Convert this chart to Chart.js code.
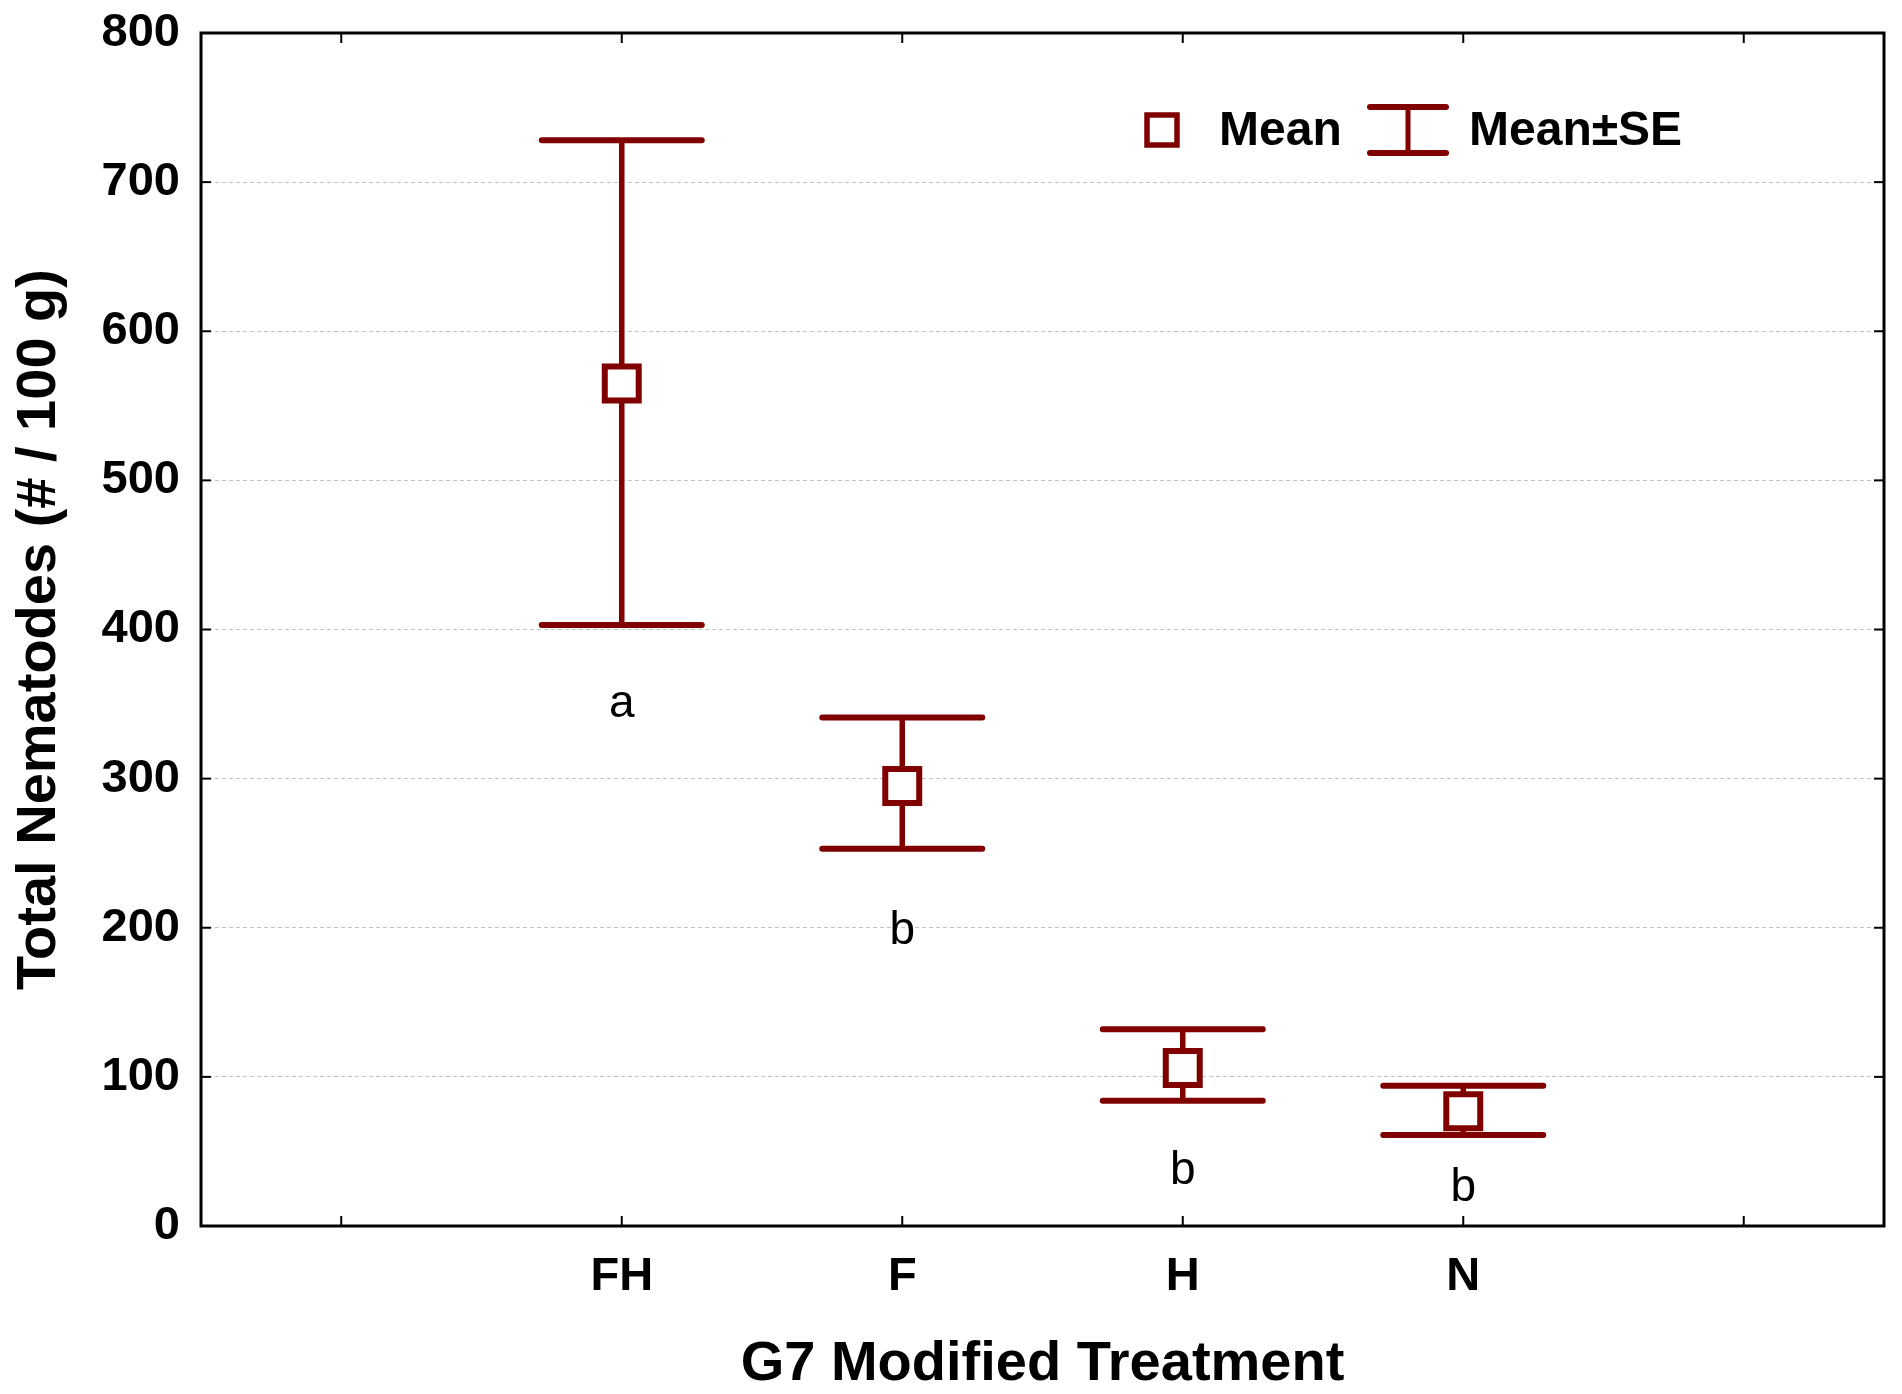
<!DOCTYPE html>
<html><head><meta charset="utf-8">
<script src="https://cdn.jsdelivr.net/npm/chart.js@4.4.0/dist/chart.umd.min.js"></script>
<style>html,body{margin:0;padding:0;background:#fff;overflow:hidden;} canvas{display:block;}</style>
</head><body>
<canvas id="c" width="1902" height="1394" style="width:1902px;height:1394px"></canvas>
<script>
// ---- data ----
const categories = ['FH', 'F', 'H', 'N'];
const means = [565, 295, 106, 77];
const upperSE = [728, 341, 132, 94];
const lowerSE = [403, 253, 84, 61];
const groupLetters = ['a', 'b', 'b', 'b'];
const letterBaseline = [341, 189, 28, 17];
const yTickValues = [0, 100, 200, 300, 400, 500, 600, 700, 800];
const xTickSlots = [0, 1, 2, 3, 4, 5];

const MARK = '#800000';
const FONT = "'Liberation Sans', Arial, sans-serif";

function zeroPad(s) { s.paddingTop = 0; s.paddingBottom = 0; s.paddingLeft = 0; s.paddingRight = 0; }

const errorBarPlugin = {
  id: 'errorBars',
  beforeDatasetsDraw(chart) {
    const {ctx, scales: {x, y}} = chart;
    ctx.save();
    ctx.strokeStyle = MARK;
    categories.forEach((c, i) => {
      const px = x.getPixelForValue(i + 1);
      const yU = y.getPixelForValue(upperSE[i]);
      const yL = y.getPixelForValue(lowerSE[i]);
      ctx.lineCap = 'butt';
      ctx.lineWidth = 5.5;
      ctx.beginPath(); ctx.moveTo(px, yU); ctx.lineTo(px, yL); ctx.stroke();
      ctx.lineCap = 'round';
      ctx.lineWidth = 6;
      [yU, yL].forEach(yy => {
        ctx.beginPath(); ctx.moveTo(px - 80, yy); ctx.lineTo(px + 80, yy); ctx.stroke();
      });
    });
    ctx.restore();
  },
  afterDatasetsDraw(chart) {
    const {ctx, scales: {x, y}} = chart;
    ctx.save();
    ctx.fillStyle = '#000';
    ctx.font = "46px " + FONT;
    ctx.textAlign = 'center';
    ctx.textBaseline = 'alphabetic';
    groupLetters.forEach((t, i) => {
      ctx.fillText(t, x.getPixelForValue(i + 1), y.getPixelForValue(letterBaseline[i]));
    });
    ctx.restore();
  }
};

const framePlugin = {
  id: 'frame',
  afterDraw(chart) {
    const {ctx, chartArea: a, scales: {x, y}} = chart;
    ctx.save();
    ctx.strokeStyle = '#000';
    ctx.lineWidth = 2;
    const tl = 10;
    // inward ticks
    x.ticks.forEach(t => {
      const px = x.getPixelForValue(t.value);
      ctx.beginPath(); ctx.moveTo(px, a.bottom); ctx.lineTo(px, a.bottom - tl); ctx.stroke();
      ctx.beginPath(); ctx.moveTo(px, a.top); ctx.lineTo(px, a.top + tl); ctx.stroke();
    });
    y.ticks.forEach(t => {
      if (t.value === 0 || t.value === 800) return;
      const py = y.getPixelForValue(t.value);
      ctx.beginPath(); ctx.moveTo(a.left, py); ctx.lineTo(a.left + tl, py); ctx.stroke();
      ctx.beginPath(); ctx.moveTo(a.right, py); ctx.lineTo(a.right - tl, py); ctx.stroke();
    });
    ctx.lineWidth = 3;
    ctx.strokeRect(a.left, a.top, a.right - a.left, a.bottom - a.top);

    // legend (fixed offsets from the plot's top-left corner)
    const lx = a.left, ly = a.top;
    const cy = ly + 97;
    ctx.fillStyle = '#fff';
    ctx.strokeStyle = MARK;
    ctx.lineWidth = 5.5;
    ctx.fillRect(lx + 946, cy - 15, 30, 30);
    ctx.strokeRect(lx + 946, cy - 15, 30, 30);
    ctx.fillStyle = '#000';
    ctx.font = "bold 48px " + FONT;
    ctx.textAlign = 'left';
    ctx.textBaseline = 'middle';
    ctx.fillText('Mean', lx + 1018, cy + 2);
    const ex = lx + 1207;
    ctx.lineWidth = 5;
    ctx.lineCap = 'butt';
    ctx.beginPath(); ctx.moveTo(ex, cy - 23); ctx.lineTo(ex, cy + 23); ctx.stroke();
    ctx.lineWidth = 6; ctx.lineCap = 'round';
    [cy - 23, cy + 23].forEach(yy => {
      ctx.beginPath(); ctx.moveTo(ex - 38, yy); ctx.lineTo(ex + 38, yy); ctx.stroke();
    });
    ctx.fillText('Mean\u00B1SE', lx + 1268, cy + 2);
    ctx.restore();
  }
};

new Chart(document.getElementById('c'), {
  type: 'scatter',
  data: {
    datasets: [{
      label: 'Mean',
      data: means.map((m, i) => ({x: i + 1, y: m})),
      pointStyle: 'rect',
      pointRadius: 24,
      pointHoverRadius: 24,
      pointBackgroundColor: '#fff',
      pointBorderColor: MARK,
      pointBorderWidth: 6,
      pointHoverBorderWidth: 6
    }]
  },
  options: {
    responsive: false,
    animation: false,
    events: [],
    devicePixelRatio: 1,
    layout: {autoPadding: false, padding: {left: 0, right: 18, top: 33, bottom: 0}},
    plugins: {legend: {display: false}, tooltip: {enabled: false}},
    scales: {
      x: {
        type: 'linear', min: -0.5, max: 5.5,
        afterBuildTicks(s) { s.ticks = xTickSlots.map(v => ({value: v})); },
        afterFit(s) { s.height = 168; zeroPad(s); },
        grid: {display: false, drawTicks: false},
        border: {display: false},
        ticks: {
          padding: 23,
          autoSkip: false, maxRotation: 0,
          color: '#000',
          font: {family: FONT, size: 47, weight: 'bold'},
          callback: (v) => categories[v - 1] || ''
        },
        title: {
          display: true, text: 'G7 Modified Treatment', color: '#000',
          font: {family: FONT, size: 56, weight: 'bold', lineHeight: 1.0},
          padding: {top: 0, bottom: 1}
        }
      },
      y: {
        type: 'linear', min: 0, max: 800,
        afterBuildTicks(s) { s.ticks = yTickValues.map(v => ({value: v})); },
        afterFit(s) { s.width = 201; zeroPad(s); },
        grid: {
          drawTicks: false,
          lineWidth: 1,
          color: (c) => (c.tick && (c.tick.value === 0 || c.tick.value === 800)) ? 'rgba(0,0,0,0)' : '#c4c4c4'
        },
        border: {display: false, dash: [4, 3]},
        ticks: {
          padding: 21,
          color: '#000',
          font: {family: FONT, size: 47, weight: 'bold'}
        },
        title: {
          display: true, text: 'Total Nematodes (# / 100 g)', color: '#000',
          font: {family: FONT, size: 56, weight: 'bold', lineHeight: 1.0},
          padding: {top: 12, bottom: 0}
        }
      }
    }
  },
  plugins: [errorBarPlugin, framePlugin]
});
</script>
</body></html>
